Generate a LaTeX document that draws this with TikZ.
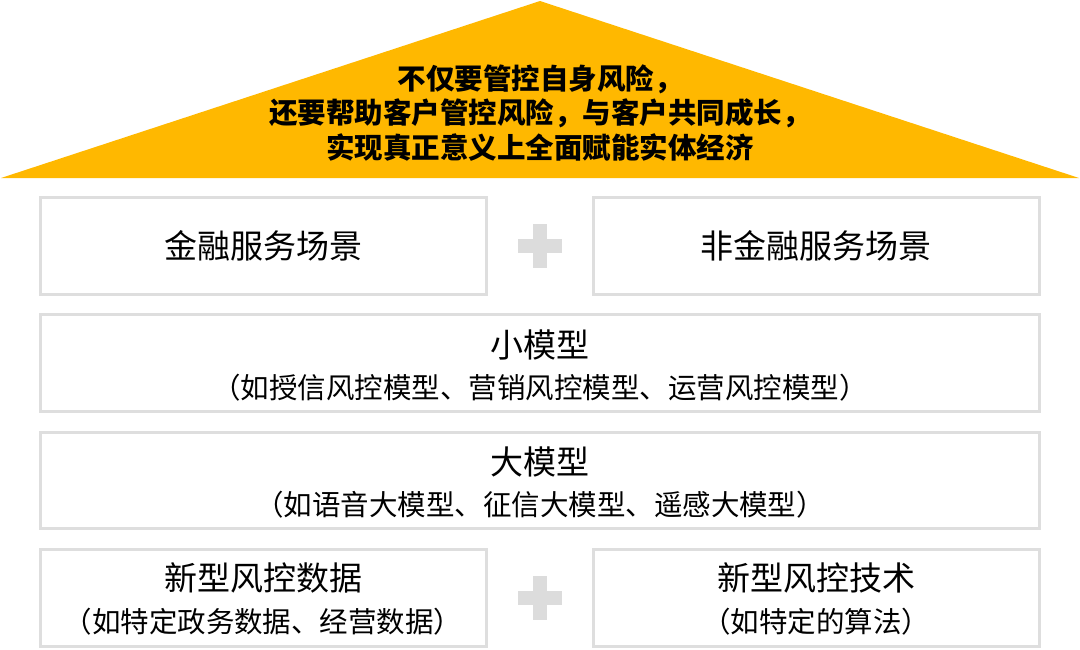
\documentclass[tikz,border=0pt]{standalone}
\usepackage{fontspec}
\setmainfont{Noto Sans CJK SC}
\definecolor{roof}{HTML}{FFB800}
\definecolor{edge}{HTML}{DEDEDE}
\definecolor{plusc}{HTML}{DCDCDC}
\tikzset{
  panel/.style={draw=edge, line width=3pt, fill=white},
  ttl/.style={font=\fontsize{33}{38}\selectfont, text=black, inner sep=0pt},
  sub/.style={font=\fontsize{28.5}{32}\selectfont, text=black, inner sep=0pt},
  rooftext/.style={font=\fontsize{28.5}{34.5}\selectfont\bfseries, align=center, text=black, inner sep=0pt},
}
\begin{document}
\begin{tikzpicture}[x=1pt,y=-1pt]
\useasboundingbox (0,0) rectangle (1080,649);
% roof
\fill[roof] (1,178) -- (540,1) -- (1079,178) -- cycle;
\node[rooftext] (rt) at (540,113) {不仅要管控自身风险，\\还要帮助客户管控风险，与客户共同成长，\\实现真正意义上全面赋能实体经济};
% boxes
\draw[panel] (40,197) rectangle (486,294);
\draw[panel] (593,197) rectangle (1039,294);
\draw[panel] (40,314) rectangle (1039,411);
\draw[panel] (40,432) rectangle (1039,528);
\draw[panel] (40,549) rectangle (486,646);
\draw[panel] (593,549) rectangle (1039,646);
% texts
\node[ttl] (t1) at (263,246) {金融服务场景};
\node[ttl] (t2) at (816,246) {非金融服务场景};
\node[ttl] (t3) at (540,345) {小模型};
\node[sub] (s3) at (540,388) {（如授信风控模型、营销风控模型、运营风控模型）};
\node[ttl] (t4) at (540,462) {大模型};
\node[sub] (s4) at (540,505) {（如语音大模型、征信大模型、遥感大模型）};
\node[ttl] (t5) at (263,578) {新型风控数据};
\node[sub] (s5) at (263,622) {（如特定政务数据、经营数据）};
\node[ttl] (t6) at (816,578) {新型风控技术};
\node[sub] (s6) at (816,622) {（如特定的算法）};
% plus signs
\foreach \cy/\nm in {246/p1, 598/p2}{
  \fill[plusc] (518,\cy-7) rectangle (562,\cy+7);
  \fill[plusc] (533,\cy-22) rectangle (547,\cy+22);
  \coordinate (\nm) at (540,\cy);
}
\end{tikzpicture}
\end{document}
